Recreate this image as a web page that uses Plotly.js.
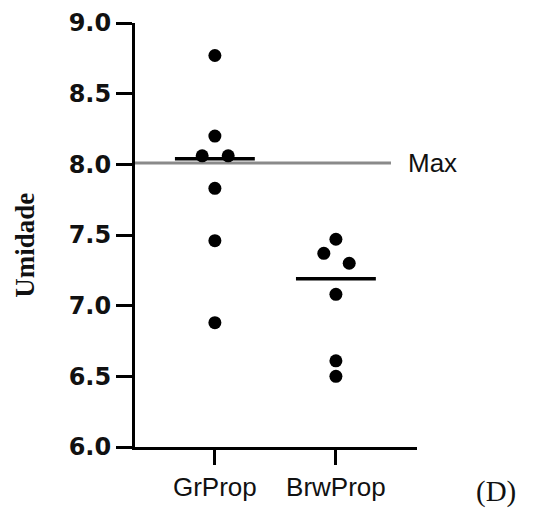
<!DOCTYPE html>
<html>
<head>
<meta charset="utf-8">
<script src="https://cdn.plot.ly/plotly-3.0.1.min.js"></script>
<style>html,body{margin:0;padding:0;background:#fff}#chart{width:533px;height:512px}</style>
</head>
<body>
<div id="chart"></div>
<script>
// ---- data ----
const categories = ["GrProp", "BrwProp"];
const grPropValues = [8.77, 8.20, 8.06, 8.06, 7.83, 7.46, 6.88];
const brwPropValues = [7.47, 7.37, 7.30, 7.08, 6.61, 6.50];
const medians = [8.04, 7.19];
const maxValue = 8.01;
const maxLabel = "Max";
const yTitle = "Umidade";
const panelLabel = "(D)";
const yTickVals = [6.0, 6.5, 7.0, 7.5, 8.0, 8.5, 9.0];

// swarm offsets (layout only)
const grPropJitter = [0, 0, -0.105, 0.11, 0, 0, 0];
const brwPropJitter = [0, -0.1, 0.11, 0, 0, 0];
const medianHalfWidth = 0.33;

const groups = [grPropValues, brwPropValues];
const jitters = [grPropJitter, brwPropJitter];

const traces = [];
groups.forEach((vals, i) => {
  traces.push({
    type: "scatter", mode: "markers",
    x: vals.map((v, k) => i + jitters[i][k]),
    y: vals,
    marker: {color: "#000", size: 13},
    hoverinfo: "skip", showlegend: false
  });
});
medians.forEach((m, i) => {
  traces.push({
    type: "scatter", mode: "lines",
    x: [i - medianHalfWidth, i + medianHalfWidth],
    y: [m, m],
    line: {color: "#000", width: 3.5},
    hoverinfo: "skip", showlegend: false
  });
});

const layout = {
  width: 533, height: 512,
  margin: {l: 135, r: 116, t: 23, b: 65},
  paper_bgcolor: "#fff", plot_bgcolor: "#fff",
  showlegend: false,
  xaxis: {
    range: [-0.66, 1.67],
    tickmode: "array", tickvals: categories.map((c, i) => i), ticktext: categories,
    showgrid: false, zeroline: false,
    showline: true, linecolor: "#000", linewidth: 3,
    ticks: "outside", ticklen: 15, tickwidth: 3, tickcolor: "#000",
    tickfont: {family: "Liberation Sans, Arial, sans-serif", size: 26, color: "#111"},
    fixedrange: true
  },
  yaxis: {
    range: [6, 9],
    tickmode: "array", tickvals: yTickVals, ticktext: yTickVals.map(v => v.toFixed(1)),
    showgrid: false, zeroline: false,
    showline: true, linecolor: "#000", linewidth: 3,
    ticks: "outside", ticklen: 16, tickwidth: 3, tickcolor: "#000",
    tickfont: {family: "DejaVu Sans, sans-serif", size: 24, color: "#111", weight: "bold"},
    fixedrange: true
  },
  shapes: [{
    type: "line", xref: "x", yref: "y",
    x0: -0.66, x1: 1.455, y0: maxValue, y1: maxValue,
    line: {color: "#8a8a8a", width: 3},
    layer: "below"
  }],
  annotations: [
    {text: maxLabel, xref: "x", yref: "y", x: 1.575, y: maxValue,
     xanchor: "left", yanchor: "middle", showarrow: false,
     font: {family: "Liberation Sans, Arial, sans-serif", size: 26, color: "#111"}},
    {text: "<b>" + yTitle + "</b>", xref: "paper", yref: "paper", x: -0.388, y: 0.476,
     xanchor: "center", yanchor: "middle", textangle: -90, showarrow: false,
     font: {family: "Liberation Serif, Times New Roman, serif", size: 27, color: "#111"}},
    {text: panelLabel, xref: "paper", yref: "paper", x: 1.28, y: -0.106,
     xanchor: "center", yanchor: "middle", showarrow: false,
     font: {family: "Liberation Serif, Times New Roman, serif", size: 29, color: "#111"}}
  ]
};

Plotly.newPlot("chart", traces, layout, {displayModeBar: false, staticPlot: true});
</script>
</body>
</html>
